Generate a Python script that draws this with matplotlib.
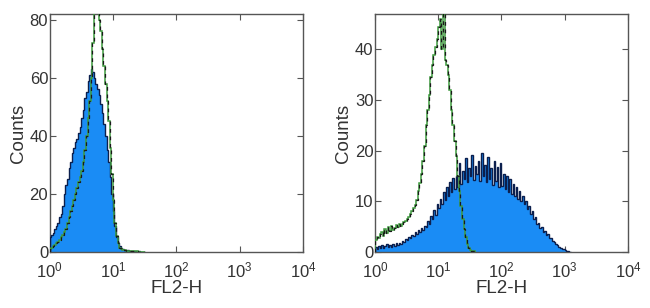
import numpy as np
import matplotlib
matplotlib.use("Agg")
import matplotlib.pyplot as plt
from matplotlib.ticker import LogLocator, NullLocator

plt.rcParams["font.family"] = ["Liberation Sans", "DejaVu Sans"]
plt.rcParams["font.size"] = 12

# histogram channels, 0.025 decade wide, starting at 10^0
step = 0.025

# left panel: stained (blue) and control (green)
left_blue = [5, 6, 6.5, 8, 9, 10, 12, 13, 16, 20, 23, 25, 29, 31, 34, 36,
             38, 39, 41, 43, 46, 49, 53, 55, 59, 61, 63, 62, 60, 58, 56, 54,
             51, 48, 44, 40, 35, 31, 26, 20, 14, 9, 5, 3, 2, 1.5, 1, 0.8,
             0.6, 0.6, 0.5, 0.4, 0.4, 0.3, 0.3, 0.2, 0.2, 0.1, 0.1, 0.1]
left_ctrl = [1, 1.5, 2, 2.5, 3, 3.5, 4, 5, 6, 7, 8, 10, 12, 14, 16, 18,
             20, 22, 24, 26, 28, 31, 35, 40, 46, 52, 60, 72, 84, 90, 86, 80,
             76, 70, 64, 58, 52, 45, 36, 27, 18, 10, 5.5, 3, 1.5, 1, 0.8, 0.6,
             0.5, 0.5, 0.4, 0.4, 0.3, 0.3, 0.2, 0.2, 0.1, 0.1, 0.1, 0.0]

# right panel
right_ctrl = [2.4, 3.0, 2.8, 3.6, 4.0, 3.2, 4.6, 3.8, 4.9, 4.2, 5.1, 4.4,
              4.8, 5.3, 4.9, 5.5, 5.2, 5.6, 5.9, 6.2, 6.6, 7.0, 7.6, 8.0,
              8.6, 9.2, 10.2, 12.0, 13.6, 15.4, 18.0, 21.0, 25.0, 28.0,
              31.0, 34.5, 37.0, 39.0, 40.5, 42.0, 44.5, 46.0, 40.0, 50.0,
              38.0, 37.0, 35.0, 32.0, 28.0, 25.0, 22.0, 19.0, 15.0, 12.0,
              9.0, 6.5, 4.5, 3.0, 1.5, 0.8, 0.4, 0.2, 0.1, 0.0]
right_blue = [
    # 10^0 .. 10^0.4
    1.0, 0.6, 1.2, 0.8, 1.4, 0.7, 1.1, 1.5, 0.9, 1.3, 1.0, 1.6,
    1.2, 1.7, 1.4, 1.8,
    # .. 10^0.8
    1.6, 2.2, 1.9, 2.6, 2.3, 3.0, 2.7, 3.4, 3.1, 3.9, 3.5, 4.3,
    4.0, 4.8, 4.4, 5.2,
    # .. 10^1.05
    5.0, 6.2, 5.6, 7.2, 6.5, 8.2, 7.4, 9.4, 8.6, 10.4,
    # .. 10^1.3
    9.4, 11.8, 10.2, 12.8, 11.0, 13.8, 11.8, 14.6, 12.4, 15.0,
    # .. 10^2.05, spiky plateau
    12.8, 17.5, 13.5, 16.0, 14.5, 18.5, 13.8, 16.5, 15.0, 19.2,
    14.2, 17.0, 15.5, 18.0, 14.0, 19.5, 15.0, 17.2, 13.8, 18.8,
    14.5, 16.5, 13.2, 18.0, 14.0, 16.8, 12.8, 17.5, 13.0, 15.5,
    # .. 10^2.35
    12.5, 15.0, 11.8, 14.5, 11.5, 13.5, 11.0, 12.8, 10.5, 12.0,
    10.0, 11.0,
    # .. 10^2.6
    9.5, 10.0, 8.5, 9.0, 7.5, 8.0, 6.5, 7.0, 5.5, 5.8,
    # .. 10^2.9
    4.8, 5.0, 4.0, 4.2, 3.4, 3.5, 2.8, 2.8, 2.2, 2.0, 1.6, 1.3,
    # .. 10^3.1
    1.0, 0.8, 0.6, 0.5, 0.3, 0.2, 0.1, 0.0]

blue_fill = "#1a8cf5"
blue_edge = "#0c1f4d"
green = "#3d9a3d"
tick_color = "#333333"

fig = plt.figure(figsize=(6.5, 3.08), dpi=100)
ax1 = fig.add_axes([0.0762, 0.1818, 0.390, 0.7727])
ax2 = fig.add_axes([0.5769, 0.1818, 0.3892, 0.7727])


def edges_for(vals):
    return 10 ** (np.arange(len(vals) + 1) * step)


def draw(ax, blue, ctrl, ymax, yticks):
    e = edges_for(blue)
    ax.stairs(blue, e, fill=True, color=blue_fill, zorder=2)
    ax.stairs(blue, e, color=blue_edge, lw=1.0, zorder=3)
    ec = edges_for(ctrl)
    ax.stairs(ctrl, ec, color=green, lw=1.1, zorder=4)
    ax.stairs(ctrl, ec, color="#1a1a1a", lw=0.9, ls=(0, (3, 3)), zorder=5)
    ax.set_xscale("log")
    ax.set_xlim(1, 1e4)
    ax.set_ylim(0, ymax)
    ax.set_yticks(yticks)
    ax.xaxis.set_major_locator(LogLocator(base=10, numticks=10))
    ax.xaxis.set_minor_locator(NullLocator())
    ax.tick_params(direction="in", top=True, right=True, length=4,
                   width=0.8, colors="#555555", labelcolor=tick_color,
                   labelsize=12, pad=1)
    ax.tick_params(axis="x", pad=6)
    for s in ax.spines.values():
        s.set_color("#555555")
        s.set_linewidth(1.0)
    ax.set_xlabel("FL2-H", color=tick_color, fontsize=13.5, labelpad=0)
    ax.set_ylabel("Counts", color=tick_color, fontsize=13.5, labelpad=2)


draw(ax1, left_blue, left_ctrl, 82, [0, 20, 40, 60, 80])
draw(ax2, right_blue, right_ctrl, 47, [0, 10, 20, 30, 40])

fig.savefig("out.png", dpi=100)
